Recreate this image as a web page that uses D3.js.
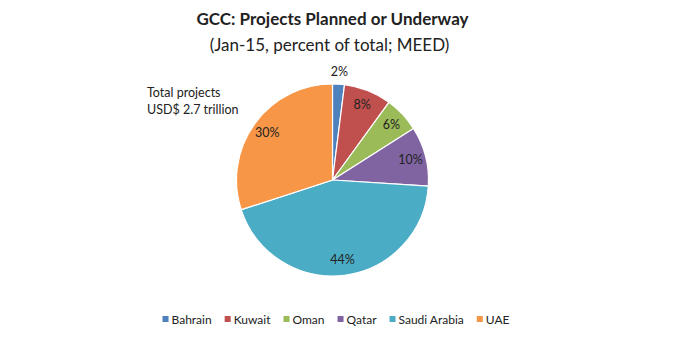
<!DOCTYPE html>
<html>
<head>
<meta charset="utf-8">
<script src="https://cdn.jsdelivr.net/npm/d3@7"></script>
<style>
  body { margin: 0; background: #fff; }
  text { font-family: Lato, "Open Sans", sans-serif; fill: #222; }
</style>
</head>
<body>
<svg></svg>
<script>
var width = 692;
var height = 338;

var countries = ["Bahrain", "Kuwait", "Oman", "Qatar", "Saudi Arabia", "UAE"];
var shares = [2, 8, 6, 10, 44, 30];
var colors = ["#4F81BD", "#C0504D", "#9BBB59", "#8064A2", "#4BACC6", "#F79646"];

var data = countries.map((c, i) => ({ name: c, value: shares[i], color: colors[i] }));

var cx = 332.5, cy = 180, radius = 96;

var svg = d3.select("svg")
    .attr("width", width)
    .attr("height", height);

// titles
svg.append("text")
    .attr("x", cx)
    .attr("y", 25)
    .style("text-anchor", "middle")
    .style("font-weight", "bold")
    .style("font-size", "17px")
    .text("GCC: Projects Planned or Underway");

svg.append("text")
    .attr("x", cx - 3)
    .attr("y", 51)
    .style("text-anchor", "middle")
    .style("font-size", "17px")
    .text("(Jan-15, percent of total; MEED)");

// note on the left
svg.append("text")
    .attr("x", 147)
    .attr("y", 97)
    .style("font-size", "12.5px")
    .text("Total projects");
svg.append("text")
    .attr("x", 147)
    .attr("y", 114)
    .style("font-size", "12.5px")
    .text("USD$ 2.7 trillion");

var pie = d3.pie()
    .sort(null)
    .value(d => d.value);

var arc = d3.arc()
    .innerRadius(0)
    .outerRadius(radius);

var labelArc = d3.arc()
    .innerRadius(radius * 0.84)
    .outerRadius(radius * 0.84);

var outsideArc = d3.arc()
    .innerRadius(radius * 1.13)
    .outerRadius(radius * 1.13);

var g = svg.append("g")
    .attr("transform", "translate(" + cx + "," + cy + ")");

var slices = pie(data);

g.selectAll("path")
    .data(slices)
    .enter()
    .append("path")
        .attr("d", arc)
        .attr("fill", d => d.data.color)
        .attr("stroke", "#fff")
        .attr("stroke-width", 1.2);

// small slices get their label outside the pie
g.selectAll(".lbl")
    .data(slices)
    .enter()
    .append("text")
        .attr("class", "lbl")
        .attr("transform", d => "translate(" + (d.data.value < 5 ? outsideArc : labelArc).centroid(d) + ")")
        .attr("dy", "0.35em")
        .style("text-anchor", "middle")
        .style("font-size", "12.5px")
        .text(d => d.data.value + "%");

// legend, laid out from the text widths
var legend = svg.append("g")
    .attr("transform", "translate(0,320)");

var items = legend.selectAll("g")
    .data(data)
    .enter()
    .append("g");

items.append("rect")
    .attr("x", 0)
    .attr("y", -4)
    .attr("width", 6)
    .attr("height", 6)
    .attr("fill", d => d.color);

items.append("text")
    .attr("x", 9)
    .attr("y", 0)
    .attr("dy", "0.35em")
    .style("font-size", "12px")
    .text(d => d.name);

var x = 0, gap = 13, offsets = [];
items.each(function() {
    offsets.push(x);
    x += 9 + d3.select(this).select("text").node().getComputedTextLength() + gap;
});
var total = x - gap;
var startX = 336 - total / 2;
items.attr("transform", (d, i) => "translate(" + (startX + offsets[i]) + ",0)");
</script>
</body>
</html>
